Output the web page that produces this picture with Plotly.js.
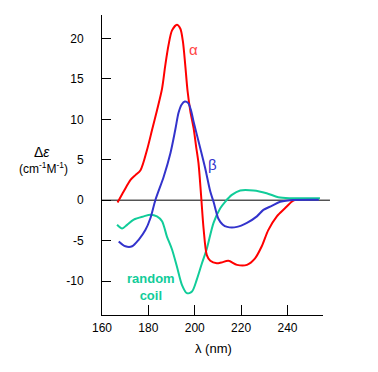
<!DOCTYPE html>
<html><head><meta charset="utf-8">
<script src="https://cdn.plot.ly/plotly-3.0.1.min.js"></script>
<style>html,body{margin:0;padding:0;background:#fff}#chart{width:378px;height:372px}</style>
</head><body><div id="chart"></div>
<script>
const alphaX = [166.7,169.4,172.3,174.4,176.6,179.4,181.6,183.7,185.9,187.3,188.7,190.2,192.3,193.8,194.9,195.9,196.9,198.1,199.5,200.6,201.6,202.7,203.8,205.2,206.7,209.5,211.5,214.5,218.2,222.5,226.0,228.9,231.7,235.4,238.9,241.8,243.0];
const alphaY = [-0.3,1.1,2.5,3.1,3.7,6.2,8.7,11.1,13.8,16.7,19.2,21.0,21.7,21.2,19.6,16.7,13.5,11.0,8.9,6.6,4.6,0.7,-3.5,-6.8,-7.5,-7.8,-7.7,-7.5,-8.0,-8.0,-7.2,-5.7,-3.7,-2.0,-1.0,-0.2,0.0];
const betaX = [167.2,170.1,173.0,175.8,178.7,180.9,183.0,186.6,189.5,191.6,193.0,194.3,195.7,197.2,198.4,199.5,202.4,204.5,206.7,208.1,210.2,212.0,214.0,218.2,222.5,226.8,229.6,233.2,236.8,241.0,253.5];
const betaY = [-5.1,-5.7,-5.7,-4.9,-3.7,-2.2,0.0,2.9,5.8,8.7,10.8,11.8,12.2,12.0,11.1,9.7,6.4,3.95,1.06,-0.2,-2.3,-3.0,-3.3,-3.3,-2.8,-2.0,-1.2,-0.7,-0.2,0.0,0.05];
const coilX = [166.5,168.7,170.8,173.7,178.0,180.9,183.7,185.9,188.0,190.2,192.3,194.5,196.6,198.8,200.9,203.1,205.2,208.1,211.0,213.1,216.0,219.6,225.3,231.0,236.0,241.0,254.0];
const coilY = [-3.05,-3.5,-3.05,-2.4,-2.0,-1.8,-2.0,-2.6,-4.5,-6.1,-8.2,-10.5,-11.5,-11.3,-9.8,-7.8,-6.0,-2.8,-1.0,-0.2,0.65,1.2,1.2,0.86,0.37,0.25,0.25];
const xTicks = [160,180,200,220,240];
const yTicks = [-10,-5,0,5,10,15,20];
const yTickText = ['-10','-5','0','5','10','15','20'];

const font = 'Liberation Sans, Arial, sans-serif';
const traces = [
  {x: coilX, y: coilY, mode:'lines', line:{color:'#11cc99', width:2, shape:'spline', smoothing:0.8}},
  {x: alphaX, y: alphaY, mode:'lines', line:{color:'#ff0000', width:2, shape:'spline', smoothing:0.8}},
  {x: betaX, y: betaY, mode:'lines', line:{color:'#3333cc', width:2, shape:'spline', smoothing:0.8}}
];
const layout = {
  width:378, height:372,
  margin:{l:101.5, r:55, t:15, b:57},
  paper_bgcolor:'#fff', plot_bgcolor:'#fff',
  showlegend:false,
  font:{family:font, size:12, color:'#000'},
  xaxis:{range:[160,255.3], tickvals:xTicks, ticks:'inside', ticklen:10, tickcolor:'#000', tickwidth:1,
    showline:true, linecolor:'#000', linewidth:1, showgrid:false, zeroline:false, ticklabelstandoff:2,
    tickfont:{family:font, size:12, color:'#000'}},
  yaxis:{range:[-14.2,22.9], tickvals:yTicks, ticktext:yTickText, ticks:'inside', ticklen:9, tickcolor:'#000', tickwidth:1,
    showline:true, linecolor:'#000', linewidth:1, showgrid:false, zeroline:false, ticklabelstandoff:15,
    tickfont:{family:font, size:12, color:'#000'}},
  shapes:[{type:'line', xref:'paper', yref:'y', x0:0, x1:1.0316, y0:0, y1:0, line:{color:'#000', width:1}, layer:'below'}],
  annotations:[
    {xref:'paper', yref:'paper', x:-0.272, y:0.543, xanchor:'center', yanchor:'middle', text:'Δ<i>ε</i>', showarrow:false, font:{family:font, size:14, color:'#000'}},
    {xref:'paper', yref:'paper', x:-0.266, y:0.49, xanchor:'center', yanchor:'middle', text:'(cm<sup>-1</sup>M<sup>-1</sup>)', showarrow:false, font:{family:font, size:12, color:'#000'}},
    {xref:'paper', yref:'paper', x:0.505, y:-0.11, xanchor:'center', yanchor:'middle', text:'λ (nm)', showarrow:false, font:{family:font, size:13, color:'#000'}},
    {x:199.4, y:18.6, xanchor:'center', yanchor:'middle', text:'α', showarrow:false, font:{family:font, size:15, color:'#ff4444'}},
    {x:207.6, y:4.4, xanchor:'center', yanchor:'middle', text:'β', showarrow:false, font:{family:font, size:15, color:'#3333cc'}},
    {x:181.3, y:-10.7, xanchor:'center', yanchor:'middle', text:'<b>random<br>coil</b>', showarrow:false, font:{family:font, size:13, color:'#11cc99'}}
  ]
};
Plotly.newPlot('chart', traces, layout, {displayModeBar:false, staticPlot:true});
</script></body></html>
